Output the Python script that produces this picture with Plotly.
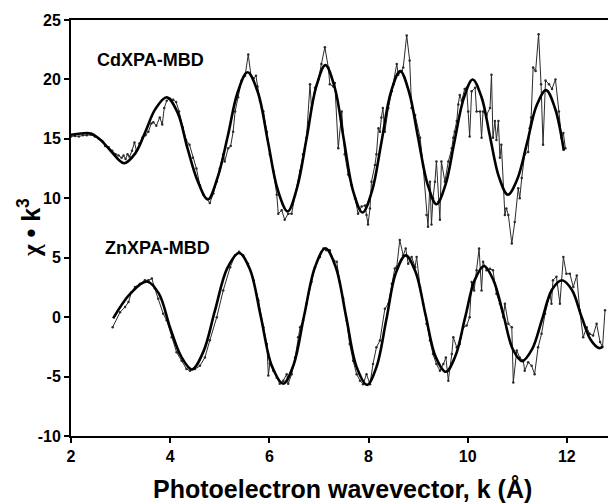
import plotly.graph_objects as go

# ---- CdXPA-MBD (offset ~15) ----
cd_fit_k = [2.0, 2.2, 2.4, 2.6, 2.8, 3.07, 3.3, 3.5, 3.7, 3.93, 4.15, 4.35, 4.55, 4.76, 4.96, 5.16,
            5.36, 5.56, 5.77, 5.97, 6.17, 6.37, 6.56, 6.75, 6.94, 7.13, 7.32, 7.5, 7.69, 7.88, 8.07,
            8.26, 8.45, 8.64, 8.82, 9.0, 9.19, 9.37, 9.55, 9.73, 9.92, 10.1, 10.28, 10.45, 10.63,
            10.81, 11.0, 11.2, 11.39, 11.58, 11.76, 11.94]
cd_fit_v = [15.35, 15.45, 15.45, 14.9, 14.0, 12.95, 13.8, 15.6, 17.5, 18.5, 17.2, 14.2, 11.5, 9.9, 11.8, 15.2,
            18.9, 20.6, 18.9, 14.8, 10.7, 8.9, 10.9, 15.0, 19.3, 21.2, 19.3, 15.0, 10.6, 8.8, 10.6,
            14.7, 18.9, 20.7, 18.9, 15.1, 11.2, 9.5, 11.1, 14.7, 18.4, 20.0, 18.5, 15.2, 11.8,
            10.3, 11.6, 14.7, 17.8, 19.1, 17.6, 14.0]

cd_exp_k = [2.00, 2.08, 2.16, 2.24, 2.32, 2.40, 2.48, 2.56, 2.63, 2.69, 2.76, 2.83, 2.90, 2.96, 3.02,
            3.06, 3.10, 3.14, 3.18, 3.23, 3.28, 3.32, 3.38, 3.44, 3.50, 3.56, 3.62, 3.66, 3.72, 3.79,
            3.84, 3.88, 3.93, 3.99, 4.06, 4.12, 4.18, 4.25, 4.32, 4.39, 4.46, 4.53, 4.60, 4.67, 4.73,
            4.80, 4.87, 4.94, 5.00, 5.07, 5.10, 5.17, 5.22, 5.27, 5.31, 5.37, 5.44, 5.51, 5.575,
            5.63, 5.68, 5.73, 5.76, 5.81, 5.88, 5.95, 6.01, 6.08, 6.15, 6.18, 6.25, 6.31, 6.38, 6.45,
            6.52, 6.62, 6.68, 6.75, 6.82, 6.85, 6.92, 6.99, 7.05, 7.12, 7.19, 7.22, 7.29, 7.32, 7.39,
            7.46, 7.52, 7.59, 7.66, 7.73, 7.79, 7.86, 7.93, 7.96, 7.99, 8.03, 8.06, 8.13, 8.16, 8.20,
            8.23, 8.26, 8.29, 8.33, 8.40, 8.47, 8.50, 8.57, 8.60, 8.67, 8.70, 8.77, 8.83, 8.87, 8.94,
            9.04, 9.10, 9.17, 9.20, 9.24, 9.27, 9.30, 9.34, 9.37, 9.41, 9.44, 9.47, 9.54, 9.61, 9.68,
            9.71, 9.74, 9.78, 9.81, 9.84, 9.88, 9.94, 9.98, 10.01, 10.04, 10.08, 10.15, 10.18, 10.25,
            10.28, 10.31, 10.38, 10.45, 10.48, 10.51, 10.55, 10.58, 10.62, 10.65, 10.68, 10.75, 10.78,
            10.82, 10.89, 10.95, 11.02, 11.05, 11.09, 11.15, 11.22, 11.25, 11.28, 11.32, 11.37, 11.43,
            11.48, 11.52, 11.57, 11.64, 11.70, 11.77, 11.84, 11.89, 11.93, 11.97]
cd_exp_v = [15.2, 15.25, 15.2, 15.3, 15.3, 15.35, 15.2, 15.0, 14.8, 14.4, 14.3, 14.0, 13.7, 13.6, 13.4,
            13.6, 13.3, 13.7, 13.5, 14.0, 14.7, 14.0, 14.6, 15.1, 15.3, 15.6, 16.3, 16.4, 16.1, 16.8,
            16.2, 17.6, 18.2, 18.4, 18.3, 18.1, 17.3, 16.0, 14.9, 14.5, 13.4, 12.5, 11.1, 10.3, 10.0,
            9.6, 10.4, 11.4, 12.5, 13.7, 13.1, 14.2, 14.4, 15.6, 17.3, 18.5, 19.9, 20.3, 22.1,
            20.3, 20.1, 20.3, 19.4, 18.2, 17.3, 15.6, 13.7, 12.3, 10.3, 8.7, 9.0, 8.2, 8.7, 8.7,
            10.3, 12.3, 13.7, 15.1, 19.6, 17.6, 19.3, 20.0, 21.3, 22.7, 21.0, 19.6, 19.4, 19.7, 14.2,
            17.3, 13.7, 12.0, 11.1, 10.0, 8.7, 9.3, 9.4, 8.6, 7.8, 9.15, 11.4, 12.8, 13.7, 15.9,
            15.6, 16.8, 17.6, 15.6, 17.6, 19.0, 19.6, 21.3, 20.4, 20.7, 21.0, 23.7, 21.6, 17.6, 17.0,
            15.1, 12.8, 8.6, 7.6, 11.4, 7.8, 10.0, 11.4, 13.1, 9.7, 8.2, 13.1, 11.4, 13.1, 14.2,
            15.1, 15.6, 16.5, 17.9, 18.7, 18.2, 19.2, 19.3, 17.3, 15.2, 19.0, 19.3, 17.3, 17.3,
            15.1, 17.3, 17.0, 17.6, 20.4, 15.1, 16.5, 14.9, 16.5, 13.4, 14.5, 8.6, 9.15,
            8.6, 6.2, 8.0, 10.85, 10.0, 11.7, 13.7, 13.9, 15.9, 16.8, 21.0, 20.7, 23.8,
            19.6, 14.5, 19.9, 19.6, 19.2, 20.0, 17.3, 15.1, 15.5, 14.2]

# ---- ZnXPA-MBD (offset 0) ----
zn_fit_k = [2.85, 3.2, 3.53, 3.77, 4.0, 4.22, 4.44, 4.67, 4.9, 5.15, 5.39, 5.61, 5.83, 6.05, 6.28, 6.49,
            6.7, 6.92, 7.13, 7.34, 7.55, 7.76, 7.97, 8.16, 8.36, 8.55, 8.75, 8.95, 9.15, 9.35, 9.56,
            9.75, 9.95, 10.14, 10.33, 10.52, 10.72, 10.91, 11.1, 11.3, 11.5, 11.7, 11.9, 12.1, 12.3,
            12.48, 12.65, 12.72]
zn_fit_v = [-0.1, 2.0, 3.0, 2.0, -0.9, -3.3, -4.4, -2.9, 0.5, 4.1, 5.4, 4.0, 0.0, -4.1, -5.6, -4.0,
            0.1, 4.2, 5.8, 4.2, 0.0, -4.2, -5.7, -4.2, -0.2, 3.7, 5.2, 3.8, 0.2, -3.3, -4.6,
            -3.3, 0.0, 3.1, 4.3, 3.1, 0.2, -2.7, -3.7, -2.7, -0.2, 2.3, 3.1, 2.3, 0.0,
            -1.9, -2.6, -2.5]

zn_exp_k = [2.84, 2.99, 3.09, 3.16, 3.22, 3.29, 3.39, 3.49, 3.56, 3.63, 3.69, 3.76, 3.86, 3.93, 4.03,
            4.13, 4.23, 4.33, 4.40, 4.50, 4.60, 4.70, 4.80, 4.94, 5.07, 5.21, 5.31, 5.39, 5.47, 5.57,
            5.68, 5.78, 5.88, 5.95, 5.98, 6.01, 6.08, 6.15, 6.21, 6.28, 6.35, 6.38, 6.45, 6.52, 6.58,
            6.62, 6.68, 6.75, 6.85, 6.92, 7.02, 7.09, 7.15, 7.22, 7.29, 7.36, 7.42, 7.49, 7.56, 7.62,
            7.69, 7.76, 7.83, 7.89, 7.96, 8.03, 8.09, 8.16, 8.23, 8.33, 8.40, 8.47, 8.53, 8.57, 8.63,
            8.70, 8.75, 8.80, 8.87, 8.94, 8.97, 9.04, 9.10, 9.17, 9.24, 9.30, 9.37, 9.44, 9.51, 9.56,
            9.61, 9.68, 9.71, 9.78, 9.84, 9.91, 9.98, 10.04, 10.08, 10.13, 10.18, 10.23, 10.28, 10.31,
            10.38, 10.45, 10.51, 10.58, 10.65, 10.72, 10.75, 10.82, 10.89, 10.92, 10.99, 11.05, 11.12,
            11.15, 11.22, 11.29, 11.35, 11.42, 11.49, 11.56, 11.66, 11.69, 11.72, 11.79, 11.86, 11.93,
            11.99, 12.06, 12.13, 12.20, 12.26, 12.33, 12.40, 12.46, 12.53, 12.60, 12.67, 12.72, 12.77]
zn_exp_v = [-0.85, 0.42, 0.85, 1.27, 2.1, 2.54, 2.8, 3.1, 3.1, 3.25, 2.4, 1.55, 0.28, -0.27, -1.7,
            -2.96, -3.66, -4.37, -4.5, -4.37, -4.1, -3.4, -1.95, 0.0, 2.25, 4.2, 5.2, 5.5, 5.2, 4.5,
            3.1, 1.4, -0.85, -2.25, -4.9, -3.9, -4.5, -5.1, -5.6, -5.35, -4.8, -5.6, -4.8, -3.4, -1.7,
            -0.85, -0.28, 1.13, 2.96, 4.2, 5.07, 5.77, 5.63, 5.63, 4.8, 4.65, 2.96, 1.55, -0.28, -2.25,
            -3.66, -4.8, -5.35, -5.64, -4.8, -5.64, -3.95, -2.54, -1.97, 0.7, 1.13, 2.8, 4.1, 4.23, 6.48,
            5.2, 5.77, 4.5, 5.07, 4.2, 5.07, 2.54, 1.13, -0.56, -1.97, -3.1, -3.95, -4.5, -3.95, -3.4,
            -5.35, -3.1, -1.7, -2.54, -2.25, -0.85, -0.7, 0.0, 2.96, 2.25, 3.95, 5.77, 2.25, 4.65,
            3.95, 4.08, 3.95, 1.97, 1.13, 0.0, 1.13, -0.56, -0.85, -5.5, -2.8, -3.4, -3.66,
            -4.5, -3.8, -4.1, -4.8, -2.54, -1.4, 0.28, 1.97, 1.13, 3.1, 3.4, 1.13, 5.07,
            3.66, 3.66, 2.54, 3.5, 0.57, -1.7, -0.85, -1.4, -1.55, -0.56, -2.1, -2.5, 0.57]

x_ticks = [2, 4, 6, 8, 10, 12]
y_ticks = [-10, -5, 0, 5, 10, 15, 20, 25]

FONT = "Arial, Liberation Sans, Helvetica, sans-serif"
W, H = 608, 504
L, R, T, B = 71, 0, 20, 68
pw, ph = W - L - R, H - T - B


def px2paper(px, py):
    return (px - L) / pw, 1 - (py - T) / ph


fig = go.Figure()

for k, v in [(cd_exp_k, cd_exp_v), (zn_exp_k, zn_exp_v)]:
    fig.add_trace(go.Scatter(x=k, y=v, mode="lines+markers",
                             line=dict(color="#2a2a2a", width=1),
                             marker=dict(color="#2a2a2a", size=2.5),
                             showlegend=False, hoverinfo="skip"))
for k, v in [(cd_fit_k, cd_fit_v), (zn_fit_k, zn_fit_v)]:
    fig.add_trace(go.Scatter(x=k, y=v, mode="lines",
                             line=dict(color="black", width=2.6, shape="spline", smoothing=1.0),
                             showlegend=False, hoverinfo="skip"))

labels = [
    ("<b>CdXPA-MBD</b>", 150, 60, 18, 0),
    ("<b>ZnXPA-MBD</b>", 157, 248, 18, 0),
    ("<b>Photoelectron wavevector, k (Å)</b>", 342, 489, 25, 0),
    ("<b><span style='font-family:Liberation Serif'>χ</span> • k<sup>3</sup></b>", 29, 228, 25, -90),
]
for text, px, py, size, ang in labels:
    ax, ay = px2paper(px, py)
    fig.add_annotation(x=ax, y=ay, xref="paper", yref="paper", text=text,
                       xanchor="center", yanchor="middle", showarrow=False, textangle=ang,
                       font=dict(family=FONT, size=size, color="black"))

fig.update_layout(
    width=W, height=H,
    margin=dict(l=L, r=R, t=T, b=B, pad=0, autoexpand=False),
    paper_bgcolor="white", plot_bgcolor="white",
    font=dict(family=FONT, color="black"),
    xaxis=dict(range=[2, 12.83], tickvals=x_ticks, ticktext=[f"<b>{t}</b>" for t in x_ticks],
               ticks="outside", ticklen=5, tickwidth=1.5, tickcolor="black",
               showline=True, linecolor="black", linewidth=2, mirror=True,
               showgrid=False, zeroline=False, tickfont=dict(size=16, family=FONT),
               automargin=False),
    yaxis=dict(range=[-10, 25], tickvals=y_ticks, ticktext=[f"<b>{t}</b>" for t in y_ticks],
               ticks="outside", ticklen=5, tickwidth=1.5, tickcolor="black",
               showline=True, linecolor="black", linewidth=2,
               showgrid=False, zeroline=False, tickfont=dict(size=16, family=FONT),
               automargin=False),
)

fig.write_html("out.html", config={"displayModeBar": False},
               post_script="document.body.style.margin='0';document.body.style.overflow='hidden';")
